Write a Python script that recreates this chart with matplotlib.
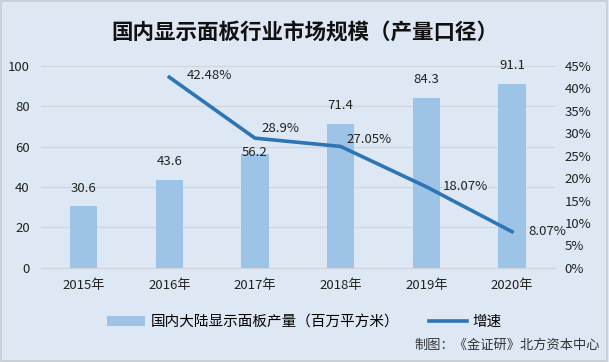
import matplotlib.pyplot as plt
from matplotlib.ticker import FuncFormatter
from matplotlib.patches import Rectangle

plt.rcParams['font.family'] = ['Noto Sans CJK SC', 'DejaVu Sans']

years = ['2015年', '2016年', '2017年', '2018年', '2019年', '2020年']
output = [30.6, 43.6, 56.2, 71.4, 84.3, 91.1]
growth = [None, 42.48, 28.9, 27.05, 18.07, 8.07]
growth_labels = ['', '42.48%', '28.9%', '27.05%', '18.07%', '8.07%']

# label placement (pixel offsets, like the hand-moved labels in the original)
bar_label_dy = [18, 18, 2, 18, 18, 18]
line_label_off = [None, (17, 2), (7, 10), (6, 7), (16, 0), (16, 0)]

bg = '#dde8f4'
bar_color = '#9dc3e6'
line_color = '#2e75b6'

fig = plt.figure(figsize=(6.09, 3.62), dpi=100, facecolor=bg)
fig.patches.append(Rectangle((0.002, 0.003), 0.995, 0.993, transform=fig.transFigure,
                             fill=False, edgecolor='#c8ccd0', linewidth=1.2))

ax = fig.add_axes([0.067, 0.26, 0.844, 0.558])
ax.set_facecolor(bg)
x = list(range(len(years)))
ax.bar(x, output, width=0.32, color=bar_color, zorder=2, label='国内大陆显示面板产量（百万平方米）')
for xi, v, dy in zip(x, output, bar_label_dy):
    ax.annotate(f'{v}', (xi, v), xytext=(0, dy), textcoords='offset pixels',
                ha='center', va='center', fontsize=9.5, color='#222222', zorder=4)
ax.set_ylim(0, 100)
ax.set_yticks(range(0, 101, 20))
ax.set_xlim(-0.5, 5.5)
ax.set_xticks(x)
ax.set_xticklabels(years, fontsize=9.5)
ax.grid(axis='y', color='#cfd4da', linewidth=0.8, zorder=0)
for s in ax.spines.values():
    s.set_visible(False)
ax.spines['bottom'].set_visible(True)
ax.spines['bottom'].set_color('#cfd4da')
ax.tick_params(axis='both', length=0, labelsize=9.5, colors='#222222')
ax.tick_params(axis='y', pad=8)
ax.tick_params(axis='x', pad=8)

ax2 = ax.twinx()
gx = [xi for xi, g in zip(x, growth) if g is not None]
gy = [g for g in growth if g is not None]
ax2.plot(gx, gy, color=line_color, linewidth=2.6, label='增速', zorder=3)
for xi, g, lab, off in zip(x, growth, growth_labels, line_label_off):
    if g is None:
        continue
    ax2.annotate(lab, (xi, g), xytext=off, textcoords='offset pixels',
                 ha='left', va='center', fontsize=9.5, color='#222222')
ax2.set_ylim(0, 45)
ax2.set_yticks(range(0, 46, 5))
ax2.yaxis.set_major_formatter(FuncFormatter(lambda v, p: f'{int(v)}%'))
for s in ax2.spines.values():
    s.set_visible(False)
ax2.tick_params(axis='y', length=0, labelsize=9.5, colors='#222222', pad=7)

fig.text(0.5, 0.91, '国内显示面板行业市场规模（产量口径）', ha='center', va='center',
         fontsize=15.5, fontweight='bold', color='#111111')

h1, l1 = ax.get_legend_handles_labels()
h2, l2 = ax2.get_legend_handles_labels()
fig.legend(h1 + h2, l1 + l2, loc='center', bbox_to_anchor=(0.5, 0.11), ncol=2,
           frameon=False, fontsize=10.5, handlelength=2.6, columnspacing=2.0,
           handletextpad=0.4)
fig.text(0.985, 0.047, '制图：《金证研》北方资本中心', ha='right', va='center',
         fontsize=9.5, color='#333333')

fig.savefig('out.png', dpi=100, facecolor=bg)
